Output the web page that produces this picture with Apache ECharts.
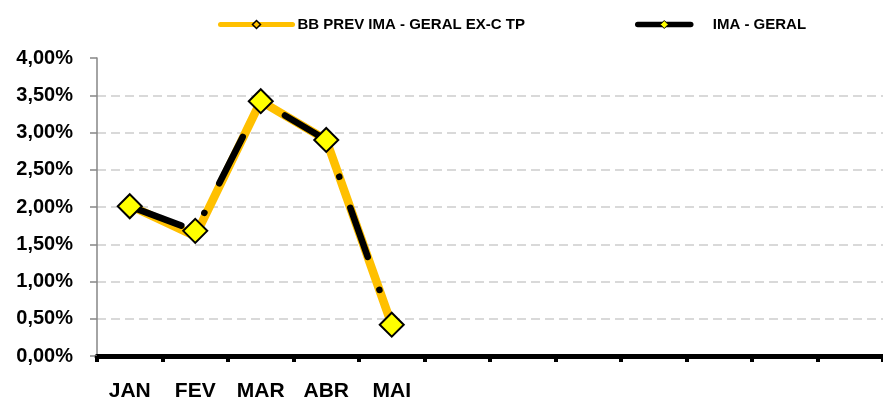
<!DOCTYPE html>
<html>
<head>
<meta charset="utf-8">
<script src="https://cdn.jsdelivr.net/npm/echarts@6/dist/echarts.min.js"></script>
<style>
html,body{margin:0;padding:0;background:#fff;}
#chart{width:883px;height:402px;}
</style>
</head>
<body>
<div id="chart"></div>
<script>
var categories = ['JAN', 'FEV', 'MAR', 'ABR', 'MAI', '', '', '', '', '', '', ''];
var seriesNames = ['BB PREV IMA - GERAL EX-C TP', 'IMA - GERAL'];
var bbPrevValues = [2.02, 1.61, 3.42, 2.90, 0.42];
var imaGeralValues = [2.01, 1.68, 3.42, 2.90, 0.42];
var yTicks = [0, 0.5, 1, 1.5, 2, 2.5, 3, 3.5, 4];

var FONT = '"Liberation Sans", Arial, sans-serif';
var chart = echarts.init(document.getElementById('chart'));

chart.setOption({
  animation: false,
  backgroundColor: '#ffffff',
  legend: [{
    data: [seriesNames[0]],
    left: 218,
    top: 17,
    padding: 0,
    itemWidth: 72,
    itemHeight: 10,
    textStyle: { fontFamily: FONT, fontWeight: 'bold', fontSize: 15, color: '#000' },
    lineStyle: { width: 5, type: 'solid', cap: 'round' },
    itemStyle: { borderWidth: 1.5, borderColor: '#000' }
  }, {
    data: [seriesNames[1]],
    left: 635,
    top: 17,
    padding: 0,
    itemWidth: 53,
    itemHeight: 10,
    textStyle: { fontFamily: FONT, fontWeight: 'bold', fontSize: 15, color: '#000', padding: [0, 0, 0, 17] },
    lineStyle: { width: 5.5, type: 'solid', cap: 'round' },
    itemStyle: { borderWidth: 1, borderColor: '#000' }
  }],
  grid: { left: 97, right: -1, top: 58, bottom: 45, containLabel: false },
  xAxis: {
    type: 'category',
    data: categories,
    boundaryGap: true,
    axisLine: { show: true, lineStyle: { color: '#000', width: 5 } },
    axisTick: { show: true, inside: false, length: 6, alignWithLabel: false, lineStyle: { color: '#000', width: 4 } },
    axisLabel: { show: true, interval: 0, margin: 25, fontFamily: FONT, fontWeight: 'bold', fontSize: 21, color: '#000' },
    splitLine: { show: false }
  },
  yAxis: {
    type: 'value',
    min: yTicks[0],
    max: yTicks[yTicks.length - 1],
    interval: yTicks[1] - yTicks[0],
    axisLine: { show: true, lineStyle: { color: '#868686', width: 1.5 } },
    axisTick: { show: true, inside: false, length: 7, lineStyle: { color: '#868686', width: 1.5 } },
    axisLabel: {
      margin: 24,
      fontFamily: FONT, fontWeight: 'bold', fontSize: 20, color: '#000',
      formatter: function (v) { return v.toFixed(2).replace('.', ',') + '%'; }
    },
    splitLine: {
      show: true,
      showMinLine: false,
      showMaxLine: false,
      lineStyle: { color: '#D9D9D9', width: 2, type: [9, 5] }
    }
  },
  series: [{
    name: seriesNames[0],
    type: 'line',
    data: bbPrevValues,
    showSymbol: false,
    symbol: 'diamond',
    symbolSize: 8,
    z: 2,
    lineStyle: { color: '#FFC000', width: 8.5, cap: 'round', join: 'round' },
    itemStyle: { color: '#FFC000', borderColor: '#000', borderWidth: 1.5 }
  }, {
    name: seriesNames[1],
    type: 'line',
    data: imaGeralValues,
    symbol: 'diamond',
    symbolSize: 24,
    z: 3,
    lineStyle: { color: '#000', width: 6.5, type: [52, 35, 0.1, 33], dashOffset: 117, cap: 'round', join: 'round' },
    itemStyle: { color: '#FFFF00', borderColor: '#000', borderWidth: 2 }
  }]
});
</script>
</body>
</html>
